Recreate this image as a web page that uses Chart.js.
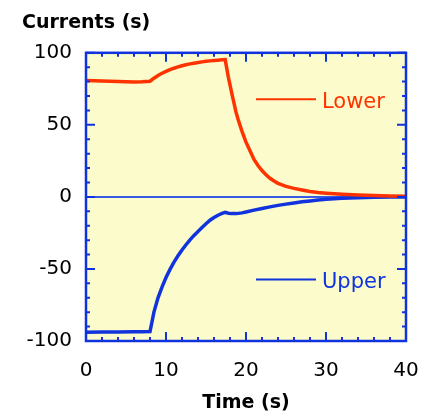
<!DOCTYPE html>
<html>
<head>
<meta charset="utf-8">
<script src="https://cdn.jsdelivr.net/npm/chart.js@4.4.0/dist/chart.umd.min.js"></script>
<style>
  html, body { margin: 0; padding: 0; background: #fff; }
  #wrap { width: 425px; height: 417px; }
</style>
</head>
<body>
<div id="wrap"><canvas id="currentsChart" width="425" height="417"></canvas></div>
<script>
/* Data */
const lowerTime = [0, 1, 2, 3, 4, 5, 6, 7, 8, 8.5, 9, 9.5, 10, 10.5, 11, 11.5, 12, 12.5, 13, 13.5, 14, 14.5, 15, 15.5, 16, 16.5, 17, 17.4,
  17.6, 17.8, 18, 18.25, 18.5, 18.75, 19, 19.5, 20, 20.5, 21, 21.5, 22, 22.5, 23, 23.5, 24, 25, 26, 27, 28, 29, 30, 31, 32, 34, 36, 38, 40];
const lowerCurrent = [80.8, 80.6, 80.4, 80.2, 80.0, 79.9, 79.8, 79.9, 80.3, 82.4, 84.2, 85.8, 87.1, 88.3, 89.3, 90.2, 91.0, 91.7, 92.3, 92.8, 93.3, 93.7, 94.1, 94.4, 94.7, 94.9, 95.1, 95.3,
  89.0, 83.0, 77.8, 71.2, 65.0, 58.8, 54.0, 45.5, 38.0, 32.0, 26.0, 21.8, 18.3, 15.3, 12.9, 11.0, 9.4, 7.3, 5.9, 4.8, 3.8, 3.1, 2.6, 2.2, 1.9, 1.4, 1.0, 0.7, 0.5];

const upperTime = [0, 2, 4, 6, 7, 8, 8.5, 9, 9.5, 10, 10.5, 11, 11.5, 12, 12.5, 13, 13.5, 14, 14.5, 15, 15.5, 16, 16.5, 17, 17.4,
  17.8, 18.2, 18.8, 19.5, 20, 21, 22, 23, 24, 25, 26, 27, 28, 29, 30, 31, 32, 34, 36, 38, 40];
const upperCurrent = [-93.9, -93.8, -93.7, -93.6, -93.5, -93.4, -79.8, -70.0, -62.6, -56.0, -50.3, -45.3, -40.9, -36.9, -33.2, -29.8, -26.7, -24.0, -21.2, -18.6, -16.2, -14.3, -12.7, -11.5, -10.7,
  -11.3, -11.6, -11.6, -11.1, -10.5, -9.2, -8.0, -6.9, -5.9, -5.0, -4.2, -3.4, -2.8, -2.2, -1.7, -1.3, -1.0, -0.6, -0.3, -0.1, 0];

const seriesLabels = ['Lower', 'Upper'];
const xTicks = [0, 10, 20, 30, 40];
const yTicks = [-100, -50, 0, 50, 100];

// colors
const RED = '#ff3300';
const BLUE = '#1133dd';
const PLOT_BG = '#fbfbcb';
const FONT = "'DejaVu Sans', sans-serif";

function toPoints(xs, ys) {
  return xs.map((x, i) => ({ x: x, y: ys[i] }));
}

// yellow plot area
const plotBackground = {
  id: 'plotBackground',
  beforeDraw(chart) {
    const { ctx, chartArea } = chart;
    ctx.save();
    ctx.fillStyle = PLOT_BG;
    ctx.fillRect(chartArea.left, chartArea.top, chartArea.width, chartArea.height);
    ctx.restore();
  }
};

// frame + inward ticks on all four sides
const frameTicks = {
  id: 'frameTicks',
  afterDatasetsDraw(chart, args, opts) {
    const { ctx, chartArea } = chart;
    const xs = chart.scales.x, ys = chart.scales.y;
    ctx.save();
    ctx.strokeStyle = opts.color;
    ctx.lineWidth = 2;
    ctx.beginPath();
    for (let v = xs.min; v <= xs.max; v += opts.xMinor) {
      const px = xs.getPixelForValue(v);
      const len = (v % opts.xMajor === 0) ? opts.major : opts.minor;
      ctx.moveTo(px, chartArea.bottom); ctx.lineTo(px, chartArea.bottom - len);
      ctx.moveTo(px, chartArea.top); ctx.lineTo(px, chartArea.top + len);
    }
    for (let v = ys.min; v <= ys.max; v += opts.yMinor) {
      const py = ys.getPixelForValue(v);
      const len = (v % opts.yMajor === 0) ? opts.major : opts.minor;
      ctx.moveTo(chartArea.left, py); ctx.lineTo(chartArea.left + len, py);
      ctx.moveTo(chartArea.right, py); ctx.lineTo(chartArea.right - len, py);
    }
    ctx.stroke();
    ctx.lineWidth = 2.5;
    ctx.strokeRect(chartArea.left, chartArea.top, chartArea.width, chartArea.height);
    ctx.restore();
  }
};

// in-plot legend: a short line then the label, placed in data units
const inlineLegend = {
  id: 'inlineLegend',
  afterDraw(chart, args, opts) {
    const { ctx } = chart;
    const xs = chart.scales.x, ys = chart.scales.y;
    ctx.save();
    chart.data.datasets.forEach((ds, i) => {
      const spot = opts.spots[i];
      const py = ys.getPixelForValue(spot.y);
      ctx.strokeStyle = ds.borderColor;
      ctx.lineWidth = 2;
      ctx.beginPath();
      ctx.moveTo(xs.getPixelForValue(spot.x0), py);
      ctx.lineTo(xs.getPixelForValue(spot.x1), py);
      ctx.stroke();
      ctx.fillStyle = ds.borderColor;
      ctx.font = opts.font;
      ctx.textAlign = 'left';
      ctx.textBaseline = 'middle';
      ctx.fillText(ds.label, xs.getPixelForValue(spot.tx), py + 3);
    });
    ctx.restore();
  }
};

const ctxCurrents = document.getElementById('currentsChart').getContext('2d');

const currentsChart = new Chart(ctxCurrents, {
  type: 'line',
  data: {
    datasets: [
      {
        label: seriesLabels[0],
        data: toPoints(lowerTime, lowerCurrent),
        borderColor: RED,
        borderWidth: 3.5,
        pointRadius: 0,
        tension: 0,
        fill: false
      },
      {
        label: seriesLabels[1],
        data: toPoints(upperTime, upperCurrent),
        borderColor: BLUE,
        borderWidth: 3.5,
        pointRadius: 0,
        tension: 0,
        fill: false
      }
    ]
  },
  options: {
    responsive: false,
    animation: false,
    layout: { padding: { left: 22, right: 19, top: 0, bottom: 0 } },
    scales: {
      x: {
        type: 'linear',
        min: 0,
        max: 40,
        afterBuildTicks: s => { s.ticks = xTicks.map(v => ({ value: v })); },
        afterFit: s => { s.height = 76; s.paddingLeft = 0; s.paddingRight = 0; },
        grid: { display: false },
        border: { display: false },
        ticks: { color: '#000', padding: 10, font: { family: FONT, size: 20 } },
        title: {
          display: true,
          text: 'Time (s)',
          color: '#000',
          padding: { top: 0, bottom: 3 },
          font: { family: FONT, size: 19, weight: 'bold' }
        }
      },
      y: {
        type: 'linear',
        min: -100,
        max: 100,
        afterBuildTicks: s => { s.ticks = yTicks.map(v => ({ value: v })); },
        afterFit: s => { s.width = 64; },
        grid: {
          drawTicks: false,
          lineWidth: 2,
          color: c => (c.tick && c.tick.value === 0) ? '#3a5ae6' : 'rgba(0,0,0,0)'
        },
        border: { display: false },
        ticks: { color: '#000', padding: 14, font: { family: FONT, size: 20 } }
      }
    },
    plugins: {
      legend: { display: false },
      tooltip: { enabled: false },
      title: {
        display: true,
        text: 'Currents (s)',
        align: 'start',
        color: '#000',
        padding: { top: 12, bottom: 18 },
        font: { family: FONT, size: 19, weight: 'bold' }
      },
      frameTicks: { color: BLUE, xMinor: 2, xMajor: 10, yMinor: 10, yMajor: 50, major: 9, minor: 4 },
      inlineLegend: {
        font: "21px " + FONT,
        spots: [
          { x0: 21.25, x1: 28.75, tx: 29.5, y: 67.7 },
          { x0: 21.25, x1: 28.75, tx: 29.5, y: -57.3 }
        ]
      }
    }
  },
  plugins: [plotBackground, frameTicks, inlineLegend]
});
</script>
</body>
</html>
